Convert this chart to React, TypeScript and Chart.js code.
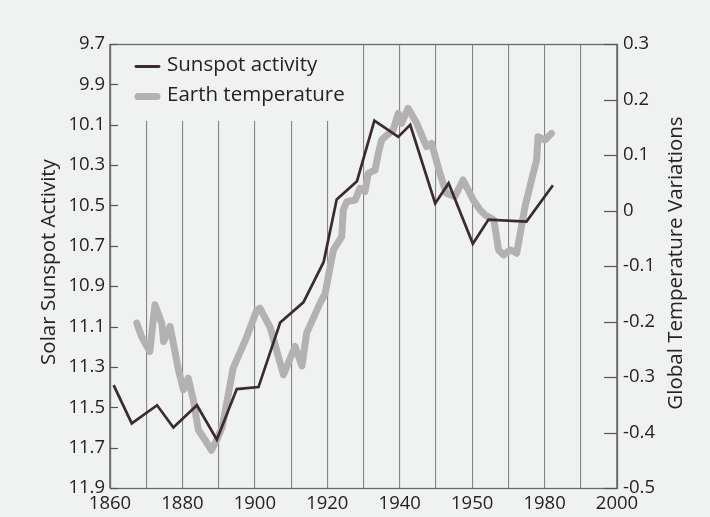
import React, { useEffect, useRef } from "react";
import { Chart, registerables } from "chart.js";
Chart.register(...registerables);

const sunspotYears = [1861, 1866, 1873, 1877.5, 1884, 1889.5, 1895, 1901, 1907, 1913.4, 1919, 1922.6, 1928.2, 1933, 1939.6, 1942.9, 1949.8, 1953.5, 1960.2, 1964.5, 1975, 1982.3];
const sunspotValues = [11.39, 11.58, 11.49, 11.6, 11.49, 11.66, 11.41, 11.4, 11.08, 10.98, 10.78, 10.47, 10.38, 10.08, 10.16, 10.1, 10.49, 10.39, 10.69, 10.57, 10.58, 10.4];

const tempYears = [1867.4, 1868.7, 1871, 1872.4, 1874.3, 1874.8, 1876.6, 1878.9, 1880.3, 1881.6, 1883, 1884.4, 1886.2, 1888, 1889.5, 1891, 1894, 1897.3, 1900.5, 1901.4, 1904.2, 1907.9, 1911.1, 1913, 1914.3, 1918, 1919.4, 1920.8, 1921.7, 1924, 1924.4, 1925.4, 1927.7, 1929, 1930.4, 1931.3, 1933.2, 1934.1, 1935, 1936, 1938.2, 1939.6, 1940.5, 1942.3, 1944.7, 1947.4, 1948.8, 1951.1, 1952.9, 1955.2, 1957.5, 1960.3, 1962.2, 1963.6, 1966, 1967.3, 1968.7, 1970.5, 1972.3, 1974.6, 1976.4, 1977.8, 1978.2, 1980.1, 1981.9];
const tempValues = [-0.203, -0.227, -0.254, -0.17, -0.203, -0.236, -0.209, -0.287, -0.323, -0.302, -0.341, -0.395, -0.413, -0.432, -0.413, -0.39, -0.284, -0.235, -0.18, -0.176, -0.21, -0.296, -0.245, -0.28, -0.221, -0.167, -0.15, -0.101, -0.071, -0.047, 0.001, 0.016, 0.019, 0.04, 0.034, 0.067, 0.073, 0.103, 0.127, 0.133, 0.145, 0.175, 0.157, 0.184, 0.157, 0.115, 0.121, 0.067, 0.031, 0.025, 0.055, 0.019, 0.001, -0.008, -0.017, -0.071, -0.08, -0.071, -0.077, 0.007, 0.055, 0.091, 0.133, 0.127, 0.139];

const sunspotTicks = [9.7, 9.9, 10.1, 10.3, 10.5, 10.7, 10.9, 11.1, 11.3, 11.5, 11.7, 11.9];
const tempTicks = [0.3, 0.2, 0.1, 0, -0.1, -0.2, -0.3, -0.4, -0.5];
const tempTickLabels = ["0.3", "0.2", "0.1", "0", "-0.1", "-0.2", "-0.3", "-0.4", "-0.5"];
const yearGrid = [1860, 1870, 1880, 1890, 1900, 1910, 1920, 1930, 1940, 1950, 1960, 1970, 1980, 1990, 2000];
const yearLabelValues = [1860, 1880, 1900, 1920, 1940, 1960, 1980, 2000];
const yearLabelTexts = ["1860", "1880", "1900", "1920", "1940", "1950", "1980", "2000"];

const seriesNames = ["Sunspot activity", "Earth temperature"];
const axisTitles = ["Solar Sunspot Activity", "Global Temperature Variations"];

const BG = "#f0f1f1";
const TEXT = "#262223";
const FONT = "'Open Sans', 'Noto Sans', sans-serif";

export default function App() {
  const ref = useRef<HTMLCanvasElement | null>(null);
  useEffect(() => {
    const canvas = ref.current!;
    const overlay = {
      id: "overlay",
      beforeDatasetsDraw(chart: any) {
        const { ctx, chartArea: a } = chart;
        ctx.save();
        ctx.fillStyle = BG;
        ctx.fillRect(a.left + 1, a.top + 1, 241, 76);
        ctx.restore();
      },
      afterDraw(chart: any) {
        const { ctx, chartArea: a, scales } = chart;
        ctx.save();
        ctx.strokeStyle = "#6a6a6a";
        ctx.lineWidth = 1.3;
        ctx.strokeRect(a.left + 0.5, a.top + 0.5, a.right - a.left, a.bottom - a.top);
        ctx.lineWidth = 1.2;
        ctx.strokeStyle = "#555";
        sunspotTicks.forEach((v) => {
          const y = Math.round(scales.y.getPixelForValue(v)) + 0.5;
          ctx.beginPath();
          ctx.moveTo(a.left, y);
          ctx.lineTo(a.left + 8, y);
          ctx.stroke();
        });
        tempTicks.forEach((v) => {
          const y = Math.round(scales.y2.getPixelForValue(v)) + 0.5;
          ctx.beginPath();
          ctx.moveTo(a.right - 13, y);
          ctx.lineTo(a.right, y);
          ctx.stroke();
        });
        ctx.lineCap = "round";
        ctx.strokeStyle = "#3b2a30";
        ctx.lineWidth = 2.8;
        ctx.beginPath();
        ctx.moveTo(136, 66.5);
        ctx.lineTo(159, 66.5);
        ctx.stroke();
        ctx.strokeStyle = "#b3b1b2";
        ctx.lineWidth = 7;
        ctx.beginPath();
        ctx.moveTo(138, 96.5);
        ctx.lineTo(157, 96.5);
        ctx.stroke();
        ctx.fillStyle = TEXT;
        ctx.font = `20.5px ${FONT}`;
        ctx.textAlign = "left";
        ctx.textBaseline = "middle";
        ctx.fillText(seriesNames[0], 167, 65);
        ctx.fillText(seriesNames[1], 167, 95);
        ctx.textAlign = "center";
        ctx.save();
        ctx.translate(49, 262);
        ctx.rotate(-Math.PI / 2);
        ctx.fillText(axisTitles[0], 0, 0);
        ctx.restore();
        ctx.save();
        ctx.translate(676, 263);
        ctx.rotate(-Math.PI / 2);
        ctx.fillText(axisTitles[1], 0, 0);
        ctx.restore();
        ctx.restore();
      },
    };
    const chart = new Chart(canvas, {
      type: "line",
      data: {
        datasets: [
          {
            label: seriesNames[0],
            data: sunspotYears.map((x, i) => ({ x, y: sunspotValues[i] })),
            yAxisID: "y",
            borderColor: "#3b2a30",
            borderWidth: 2.7,
            pointRadius: 0,
            tension: 0,
            borderJoinStyle: "miter",
          },
          {
            label: seriesNames[1],
            data: tempYears.map((x, i) => ({ x, y: tempValues[i] })),
            yAxisID: "y2",
            borderColor: "#b3b1b2",
            borderWidth: 7,
            pointRadius: 0,
            tension: 0,
            borderJoinStyle: "round",
            borderCapStyle: "round",
          },
        ],
      },
      options: {
        animation: false,
        responsive: false,
        devicePixelRatio: 1,
        layout: { padding: { top: 44, left: 0, right: 0, bottom: 0 } },
        plugins: { legend: { display: false }, tooltip: { enabled: false } },
        scales: {
          x: {
            type: "linear",
            min: 1860,
            max: 2000,
            afterBuildTicks: (s: any) => {
              s.ticks = yearGrid.map((v) => ({ value: v }));
            },
            afterFit: (s: any) => {
              s.height = 29;
            },
            ticks: {
              autoSkip: false,
              maxRotation: 0,
              padding: 5,
              color: TEXT,
              font: { size: 18.5, family: FONT },
              callback: (v: any) => {
                const i = yearLabelValues.indexOf(Number(v));
                return i >= 0 ? yearLabelTexts[i] : "";
              },
            },
            grid: { color: "#858585", lineWidth: 1.1, drawTicks: false },
            border: { display: false },
          },
          y: {
            type: "linear",
            position: "left",
            reverse: true,
            min: 9.7,
            max: 11.9,
            afterBuildTicks: (s: any) => {
              s.ticks = sunspotTicks.map((v) => ({ value: v }));
            },
            afterFit: (s: any) => {
              s.width = 110;
            },
            ticks: {
              padding: 5,
              color: TEXT,
              font: { size: 18.5, family: FONT },
              callback: (v: any) => Number(v).toFixed(1),
            },
            grid: { display: false, drawTicks: false },
            border: { display: false },
          },
          y2: {
            type: "linear",
            position: "right",
            min: -0.5,
            max: 0.3,
            afterBuildTicks: (s: any) => {
              s.ticks = tempTicks.map((v) => ({ value: v }));
            },
            afterFit: (s: any) => {
              s.width = 93;
            },
            ticks: {
              padding: 6,
              color: TEXT,
              font: { size: 18.5, family: FONT },
              callback: (v: any) => {
                const i = tempTicks.findIndex((t) => Math.abs(t - Number(v)) < 1e-9);
                return i >= 0 ? tempTickLabels[i] : "";
              },
            },
            grid: { display: false, drawTicks: false },
            border: { display: false },
          },
        },
      },
      plugins: [overlay],
    } as any);
    return () => chart.destroy();
  }, []);
  return (
    <div style={{ position: "fixed", left: 0, top: 0, width: 710, height: 517, background: BG }}>
      <canvas ref={ref} width={710} height={517} style={{ display: "block" }} />
    </div>
  );
}
